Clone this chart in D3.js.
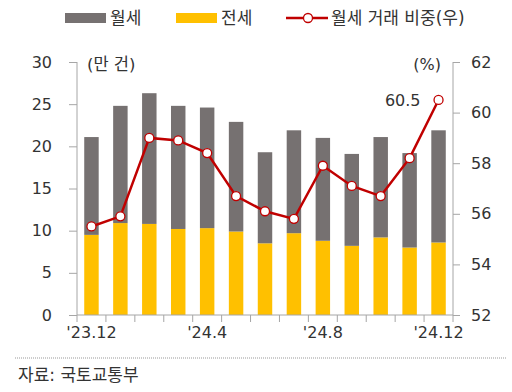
<!DOCTYPE html>
<html>
<head>
<meta charset="utf-8">
<script src="https://cdn.jsdelivr.net/npm/d3@7"></script>
<style>
  body { margin: 0; background: #fff; }
  text { font-family: "DejaVu Sans", "Noto Sans CJK KR", sans-serif; fill: #333; }
</style>
</head>
<body>
<div id="main"></div>
<script>
// months, '23.12 ~ '24.12
var months = ["23.12","24.1","24.2","24.3","24.4","24.5","24.6","24.7","24.8","24.9","24.10","24.11","24.12"];
var tickLabels = {"23.12": "'23.12", "24.4": "'24.4", "24.8": "'24.8", "24.12": "'24.12"};
var jeonse = [9.5, 10.9, 10.8, 10.2, 10.3, 9.9, 8.5, 9.7, 8.8, 8.2, 9.2, 8.0, 8.6];   // 전세 (만 건)
var wolse = [11.6, 13.9, 15.5, 14.6, 14.3, 13.0, 10.8, 12.2, 12.2, 10.9, 11.9, 11.2, 13.3]; // 월세 (만 건)
var share = [55.5, 55.9, 59.0, 58.9, 58.4, 56.7, 56.1, 55.8, 57.9, 57.1, 56.7, 58.2, 60.5]; // 월세 비중 (%)

var svg = d3.select("#main").append("svg")
    .attr("width", 512)
    .attr("height", 392);

var x = d3.scaleBand().domain(months).range([77, 453]).paddingInner(0.5).paddingOuter(0.25);
var yL = d3.scaleLinear().domain([0, 30]).range([315, 62]);
var yR = d3.scaleLinear().domain([52, 62]).range([315, 62]);

// bars: 전세 bottom, 월세 on top
svg.selectAll(".jeonse").data(months).enter().append("rect")
    .attr("x", d => x(d))
    .attr("width", x.bandwidth())
    .attr("y", (d, i) => yL(jeonse[i]))
    .attr("height", (d, i) => yL(0) - yL(jeonse[i]))
    .attr("fill", "#ffc000");
svg.selectAll(".wolse").data(months).enter().append("rect")
    .attr("x", d => x(d))
    .attr("width", x.bandwidth())
    .attr("y", (d, i) => yL(jeonse[i] + wolse[i]))
    .attr("height", (d, i) => yL(jeonse[i]) - yL(jeonse[i] + wolse[i]))
    .attr("fill", "#767171");

// left axis
var gl = svg.append("g").attr("transform", "translate(77,0)")
    .call(d3.axisLeft(yL).tickValues([0,5,10,15,20,25,30]).tickSize(8).tickPadding(17));
// right axis
var gr = svg.append("g").attr("transform", "translate(453,0)")
    .call(d3.axisRight(yR).tickValues([52,54,56,58,60,62]).tickSize(7).tickPadding(11));
// bottom axis
var gb = svg.append("g").attr("transform", "translate(0,315)")
    .call(d3.axisBottom(x).tickSize(0).tickPadding(12).tickFormat(d => tickLabels[d] || ""));
[gl, gr, gb].forEach(function(g) {
  g.select(".domain").attr("stroke", "#a6a6a6");
  g.selectAll(".tick line").attr("stroke", "#a6a6a6");
  g.selectAll("text").attr("font-size", 16).attr("fill", "#333")
    .style("font-family", "'DejaVu Sans', 'Noto Sans CJK KR', sans-serif");
});
gl.select(".domain").attr("d", "M0,315V62");
gr.select(".domain").attr("d", "M0,315V62");
gb.select(".domain").attr("d", "M77,0H453");
// bottom ticks on band boundaries
var bounds = months.map(d => x(d) - x.step() * x.paddingInner() / 2).concat([453]);
gb.selectAll(".bt").data(bounds).enter().append("line")
    .attr("x1", d => d).attr("x2", d => d)
    .attr("y1", 0).attr("y2", 7)
    .attr("stroke", "#a6a6a6");

// line: 월세 거래 비중
var line = d3.line()
    .x((d, i) => x(months[i]) + x.bandwidth() / 2)
    .y(d => yR(d));
svg.append("path")
    .attr("d", line(share))
    .attr("fill", "none")
    .attr("stroke", "#c00000")
    .attr("stroke-width", 2.5);
svg.selectAll(".pt").data(share).enter().append("circle")
    .attr("cx", (d, i) => x(months[i]) + x.bandwidth() / 2)
    .attr("cy", d => yR(d))
    .attr("r", 4.5)
    .attr("fill", "#fff")
    .attr("stroke", "#c00000")
    .attr("stroke-width", 1.3);

// last value label
svg.append("text")
    .attr("x", x(months[12]) + x.bandwidth() / 2 - 18)
    .attr("y", yR(share[12]) + 6)
    .attr("text-anchor", "end")
    .attr("font-size", 16)
    .text(share[12].toFixed(1));

// unit labels
svg.append("text").attr("x", 87).attr("y", 70).attr("font-size", 16.5).text("(만 건)");
svg.append("text").attr("x", 441).attr("y", 70).attr("text-anchor", "end").attr("font-size", 16).text("(%)");

// legend
svg.append("rect").attr("x", 65).attr("y", 13).attr("width", 41).attr("height", 10).attr("fill", "#767171");
svg.append("text").attr("x", 110).attr("y", 24).attr("font-size", 17).text("월세");
svg.append("rect").attr("x", 176).attr("y", 13).attr("width", 41).attr("height", 10).attr("fill", "#ffc000");
svg.append("text").attr("x", 221).attr("y", 24).attr("font-size", 17).text("전세");
svg.append("line").attr("x1", 286).attr("x2", 328).attr("y1", 18).attr("y2", 18)
    .attr("stroke", "#c00000").attr("stroke-width", 2.5);
svg.append("circle").attr("cx", 308).attr("cy", 18).attr("r", 4.5)
    .attr("fill", "#fff").attr("stroke", "#c00000").attr("stroke-width", 1.3);
svg.append("text").attr("x", 331).attr("y", 24).attr("font-size", 17).text("월세 거래 비중(우)");

// source
svg.append("line").attr("x1", 15).attr("x2", 506).attr("y1", 358).attr("y2", 358)
    .attr("stroke", "#999").attr("stroke-dasharray", "1,1");
svg.append("text").attr("x", 18).attr("y", 381).attr("font-size", 17).text("자료: 국토교통부");
</script>
</body>
</html>
